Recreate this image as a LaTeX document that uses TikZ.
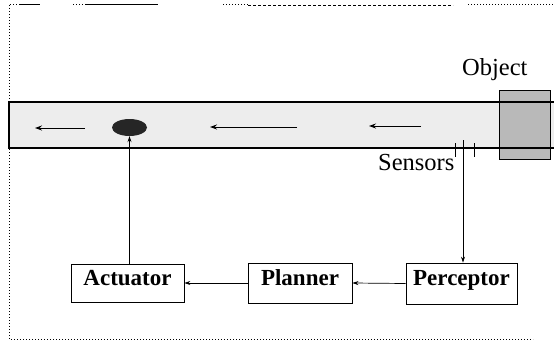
\documentclass[tikz,border=0pt]{standalone}
\usepackage{fontspec}
\setmainfont{Liberation Serif}
\usetikzlibrary{arrows.meta,shapes.geometric}
\tikzset{
  boxnode/.style={draw, line width=0.8pt, inner sep=0pt, text height=16pt, text depth=12pt,
    font=\fontsize{23}{23}\selectfont\bfseries},
  lbl/.style={anchor=base west, inner sep=0pt, font=\fontsize{24.5}{24.5}\selectfont},
  conn/.style={line width=0.7pt, -{Stealth[length=6pt,width=4pt]}},
  flow/.style={line width=1pt, -{Stealth[length=7pt,width=5pt]}},
  frame/.style={dotted, line width=1pt},
}
\begin{document}
\begin{tikzpicture}[x=1pt,y=-1pt]
\useasboundingbox (0,0) rectangle (554,345);
% frame
\draw[frame] (9,5) -- (9,339) -- (533,339);
\draw[frame] (10,5) -- (20,5);
\draw[line width=1pt] (20,5) -- (40,5);
\draw[frame] (73,5) -- (85,5);
\draw[line width=1pt] (85,5) -- (158,5);
\draw[frame] (223,5) -- (248,5);
\draw[densely dashed, line width=0.8pt] (248,5) -- (453,5);
\draw[frame] (468,5) -- (554,5);
% conveyor band
\fill[gray!14] (9,102) rectangle (554,148);
\node[draw, line width=0.8pt, fill=gray!55, minimum width=51pt, minimum height=69pt, inner sep=0pt] (obj) at (524.5,124.5) {};
\draw[line width=1.2pt] (554,102) -- (9,102) -- (9,148) -- (554,148);
% motion arrows
\coordinate (a1s) at (85,128); \coordinate (a1e) at (35,128);
\coordinate (a2s) at (297,127); \coordinate (a2e) at (210,127);
\coordinate (a3s) at (421,126); \coordinate (a3e) at (369,126);
\draw[flow] (a1s) -- (a1e);
\draw[flow] (a2s) -- (a2e);
\draw[flow] (a3s) -- (a3e);
% item on belt
\node[ellipse, fill=black!85, minimum width=35pt, minimum height=17pt, inner sep=0pt] (item) at (129.5,127.5) {};
% labels
\node[lbl] (objlbl) at (462,75) {Object};
\node[lbl] (senslbl) at (378,170) {Sensors};
% sensors
\coordinate (s1t) at (455,143); \coordinate (s1b) at (455,157);
\coordinate (s3t) at (474,143); \coordinate (s3b) at (474,157);
\coordinate (s2t) at (463,140);
\draw[line width=0.8pt] (s1t) -- (s1b);
\draw[line width=0.8pt] (s3t) -- (s3b);
% boxes
\node[boxnode, minimum width=113pt, minimum height=38pt] (act) at (127.5,283) {Actuator};
\node[boxnode, minimum width=104pt, minimum height=40pt] (plan) at (300,283) {Planner};
\node[boxnode, minimum width=111pt, minimum height=41pt] (perc) at (461.5,283.5) {Perceptor};
% connectors
\draw[conn] (s2t) -- (s2t |- perc.north);
\draw[conn] (perc.west) -- (plan.east);
\draw[conn] (plan.west) -- (act.east);
\draw[conn] (act.north -| item.south) -- (item.south);
\end{tikzpicture}
\end{document}
